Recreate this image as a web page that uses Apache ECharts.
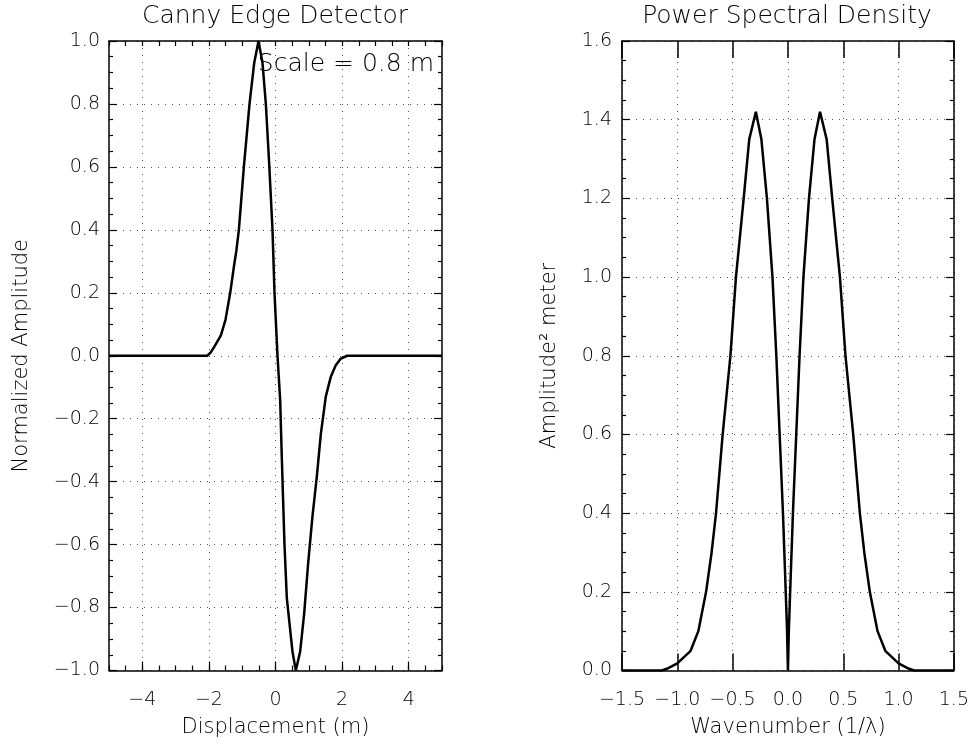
<!DOCTYPE html>
<html>
<head>
<meta charset="utf-8">
<script src="https://cdn.jsdelivr.net/npm/echarts@6/dist/echarts.min.js"></script>
<style>
html,body{margin:0;padding:0;background:#fff;}
#chart{width:972px;height:746px;}
</style>
</head>
<body>
<div id="chart"></div>
<script>
// ---- data ----
const cannyX = [-5.0, -2.05, -1.95, -1.84, -1.64, -1.50, -1.36, -1.24, -1.18, -1.10, -0.95, -0.78, -0.64, -0.51, -0.39, -0.29, -0.19, -0.09, -0.03, 0.06, 0.14, 0.18, 0.22, 0.27, 0.34, 0.44, 0.51, 0.61, 0.74, 0.86, 0.98, 1.11, 1.24, 1.36, 1.51, 1.66, 1.81, 1.95, 2.15, 5.0];
const cannyY = [0, 0, 0.01, 0.028, 0.065, 0.115, 0.20, 0.29, 0.33, 0.40, 0.60, 0.80, 0.93, 1.00, 0.93, 0.80, 0.61, 0.40, 0.20, 0.0, -0.14, -0.29, -0.43, -0.60, -0.77, -0.87, -0.94, -1.0, -0.94, -0.82, -0.66, -0.51, -0.385, -0.25, -0.13, -0.067, -0.03, -0.01, 0, 0];

const psdX = [-1.5, -1.14, -1.09, -1.0, -0.88, -0.81, -0.74, -0.69, -0.65, -0.59, -0.52, -0.47, -0.40, -0.35, -0.29, -0.24, -0.19, -0.14, -0.105, -0.075, -0.045, -0.02, -0.008, 0, 0.008, 0.02, 0.045, 0.075, 0.105, 0.14, 0.19, 0.24, 0.29, 0.35, 0.40, 0.47, 0.52, 0.59, 0.65, 0.69, 0.74, 0.81, 0.88, 1.0, 1.09, 1.14, 1.5];
const psdY = [0, 0, 0.005, 0.018, 0.05, 0.10, 0.20, 0.30, 0.40, 0.60, 0.80, 1.00, 1.20, 1.35, 1.42, 1.35, 1.20, 1.00, 0.80, 0.60, 0.40, 0.20, 0.10, 0, 0.10, 0.20, 0.40, 0.60, 0.80, 1.00, 1.20, 1.35, 1.42, 1.35, 1.20, 1.00, 0.80, 0.60, 0.40, 0.30, 0.20, 0.10, 0.05, 0.018, 0.005, 0, 0];

const cannyXTicks = [-4, -2, 0, 2, 4];

const titles = ['Canny Edge Detector', 'Power Spectral Density'];
const axisNames = { cannyX: 'Displacement (m)', cannyY: 'Normalized Amplitude', psdX: 'Wavenumber (1/\u03bb)', psdY: 'Amplitude\u00b2 meter' };
const note = 'Scale = 0.8 m';

// ---- styling ----
const FONT = 'DejaVu Sans';
const W = 200;
const fmt1 = v => (Math.abs(v) < 1e-9 ? 0 : v).toFixed(1).replace('-', '\u2212');
const fmt0 = v => String(Math.round(v)).replace('-', '\u2212');
const dotted = { color: '#555', width: 1, type: [1, 6] };
const black = { color: '#000', width: 1.2 };
const border = { show: true, onZero: false, lineStyle: { color: '#000', width: 1.5 } };
const labelStyle = { fontFamily: FONT, fontSize: 19, fontWeight: W, color: '#000' };
const nameStyle = { fontFamily: FONT, fontSize: 21, fontWeight: W, color: '#000' };

function zip(xs, ys) { return xs.map((x, i) => [x, ys[i]]); }

const chart = echarts.init(document.getElementById('chart'), null, { renderer: 'canvas' });

const option = {
  backgroundColor: '#fff',
  animation: false,
  title: [
    { text: titles[0], left: 275, top: 4, textAlign: 'center', padding: 0,
      textStyle: { fontFamily: FONT, fontSize: 25, fontWeight: W, color: '#000' } },
    { text: titles[1], left: 787, top: 4, textAlign: 'center', padding: 0,
      textStyle: { fontFamily: FONT, fontSize: 25, fontWeight: W, color: '#000' } }
  ],
  graphic: [
    { type: 'text', x: 434, y: 64, z: 10,
      style: { text: note, fill: '#000', fontFamily: FONT, fontSize: 25, fontWeight: W, textAlign: 'right', textVerticalAlign: 'middle' } }
  ],
  grid: [
    { left: 109, top: 41, width: 333, height: 629.5, show: false },
    { left: 622, top: 41, width: 332, height: 629.5, show: false }
  ],
  xAxis: [
    { // 0: left plot bottom, minor ticks every 0.5
      gridIndex: 0, type: 'value', min: -5, max: 5, interval: 0.5, position: 'bottom',
      axisLine: border, axisTick: { show: true, inside: true, length: 5, lineStyle: black },
      axisLabel: { show: false }, splitLine: { show: false }
    },
    { // 1: left plot bottom, major ticks, labels, grid
      gridIndex: 0, type: 'value', min: -5, max: 5, interval: 0.5, position: 'bottom',
      axisLine: { show: false, onZero: false },
      axisTick: { show: true, inside: true, length: 9, lineStyle: black, customValues: cannyXTicks },
      axisLabel: { show: true, customValues: cannyXTicks, formatter: fmt0, margin: 20, ...labelStyle },
      splitLine: { show: true, lineStyle: dotted },
      name: axisNames.cannyX, nameLocation: 'middle', nameGap: 47, nameTextStyle: nameStyle
    },
    { // 2: left plot top
      gridIndex: 0, type: 'value', min: -5, max: 5, interval: 0.5, position: 'top',
      axisLine: border, axisTick: { show: true, inside: true, length: 5, lineStyle: black },
      axisLabel: { show: false }, splitLine: { show: false }
    },
    { // 3: right plot bottom
      gridIndex: 1, type: 'value', min: -1.5, max: 1.5, interval: 0.5, position: 'bottom',
      axisLine: border, axisTick: { show: true, inside: true, length: 17, lineStyle: { color: '#000', width: 1.5 } },
      axisLabel: { show: true, formatter: fmt1, margin: 20, ...labelStyle },
      splitLine: { show: true, lineStyle: dotted },
      name: axisNames.psdX, nameLocation: 'middle', nameGap: 47, nameTextStyle: nameStyle
    },
    { // 4: right plot top
      gridIndex: 1, type: 'value', min: -1.5, max: 1.5, interval: 0.5, position: 'top',
      axisLine: border, axisTick: { show: true, inside: true, length: 17, lineStyle: { color: '#000', width: 1.5 } },
      axisLabel: { show: false }, splitLine: { show: false }
    }
  ],
  yAxis: [
    { // 0: left plot left
      gridIndex: 0, type: 'value', min: -1, max: 1, interval: 0.2, position: 'left',
      axisLine: border, axisTick: { show: true, inside: true, length: 8, lineStyle: black },
      minorTick: { show: true, splitNumber: 4, length: 4, lineStyle: black },
      axisLabel: { show: true, formatter: fmt1, margin: 9, ...labelStyle },
      splitLine: { show: true, lineStyle: dotted },
      name: axisNames.cannyY, nameLocation: 'middle', nameGap: 77, nameTextStyle: nameStyle
    },
    { // 1: left plot right
      gridIndex: 0, type: 'value', min: -1, max: 1, interval: 0.2, position: 'right',
      axisLine: border, axisTick: { show: true, inside: true, length: 8, lineStyle: black },
      minorTick: { show: true, splitNumber: 4, length: 4, lineStyle: black },
      axisLabel: { show: false }, splitLine: { show: false }
    },
    { // 2: right plot left
      gridIndex: 1, type: 'value', min: 0, max: 1.6, interval: 0.2, position: 'left',
      axisLine: border, axisTick: { show: true, inside: true, length: 8, lineStyle: black },
      minorTick: { show: true, splitNumber: 4, length: 4, lineStyle: black },
      axisLabel: { show: true, formatter: fmt1, margin: 10, ...labelStyle },
      splitLine: { show: true, lineStyle: dotted },
      name: axisNames.psdY, nameLocation: 'middle', nameGap: 62, nameTextStyle: nameStyle
    },
    { // 3: right plot right
      gridIndex: 1, type: 'value', min: 0, max: 1.6, interval: 0.2, position: 'right',
      axisLine: border, axisTick: { show: true, inside: true, length: 8, lineStyle: black },
      minorTick: { show: true, splitNumber: 4, length: 4, lineStyle: black },
      axisLabel: { show: false }, splitLine: { show: false }
    }
  ],
  series: [
    { type: 'line', xAxisIndex: 1, yAxisIndex: 0, data: zip(cannyX, cannyY),
      showSymbol: false, symbol: 'none', smooth: false, clip: true,
      lineStyle: { color: '#000', width: 2.5 }, z: 5 },
    { type: 'line', xAxisIndex: 3, yAxisIndex: 2, data: zip(psdX, psdY),
      showSymbol: false, symbol: 'none', smooth: false, clip: true,
      lineStyle: { color: '#000', width: 2.5 }, z: 5 }
  ]
};
chart.setOption(option);
</script>
</body>
</html>
